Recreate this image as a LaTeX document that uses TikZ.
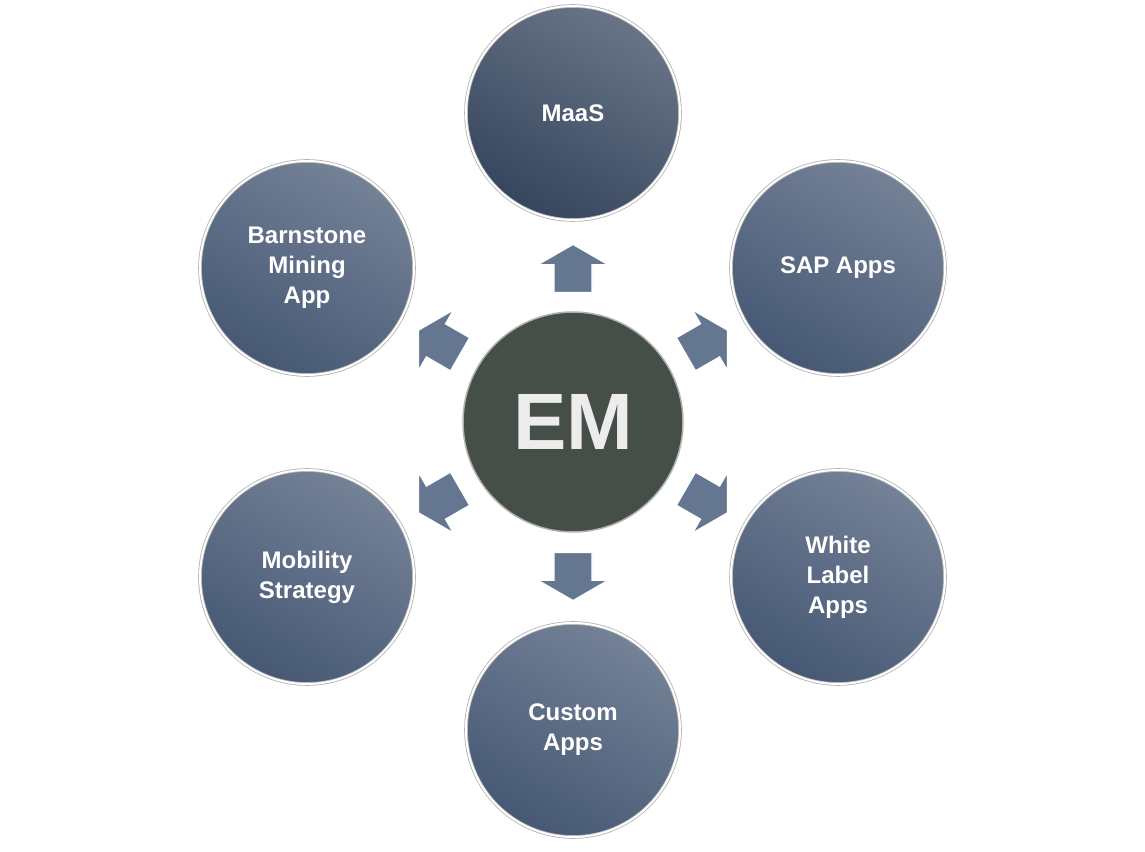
\documentclass[tikz,border=0pt]{standalone}
\usepackage{fontspec}
\setmainfont{Liberation Sans}
\usetikzlibrary{shapes.arrows}

\begin{document}
\begin{tikzpicture}[x=1pt,y=1pt,
  app node/.style={circle,minimum size=214pt,draw=gray!60,line width=0.8pt,
    double=white,double distance=2pt,
    top color=#1!75,bottom color=#1,shading angle=-30,
    text=white,font=\bfseries\fontsize{24}{30}\selectfont,align=center},
  app node/.default=appblue,
  hub node/.style={circle,minimum size=220pt,draw=gray!60,line width=1.5pt,
    fill=hubgreen,text=gray!15,font=\bfseries\fontsize{80}{90}\selectfont},
  push/.style={single arrow,draw=white,line width=1.2pt,fill=arrowblue,
    minimum width=70pt,minimum height=48pt,single arrow head extend=8pt,
    single arrow tip angle=120,inner sep=9pt}]
  \definecolor{appblue}{HTML}{465874}
  \definecolor{darkblue}{HTML}{36465E}
  \definecolor{hubgreen}{HTML}{454F48}
  \definecolor{arrowblue}{HTML}{647690}
  \useasboundingbox (0,0) rectangle (1145,851);

  \node[hub node] (em) at (573,429) {EM};

  \node[app node=darkblue] (maas) at (573,738) {MaaS};
  \node[app node] (sap)  at (838,583) {SAP Apps};
  \node[app node] (wla)  at (838,274) {White\\Label\\Apps};
  \node[app node] (cust) at (573,121) {Custom\\Apps};
  \node[app node] (mob)  at (307,274) {Mobility\\Strategy};
  \node[app node] (barn) at (307,583) {Barnstone\\Mining\\App};

  \node[push,rotate=90]  (a1) at (573,577) {};
  \node[push,rotate=30]  (a2) at (702,506) {};
  \node[push,rotate=-30] (a3) at (702,353) {};
  \node[push,rotate=-90] (a4) at (573,280) {};
  \node[push,rotate=210] (a5) at (444,353) {};
  \node[push,rotate=150] (a6) at (444,506) {};
\end{tikzpicture}
\end{document}
